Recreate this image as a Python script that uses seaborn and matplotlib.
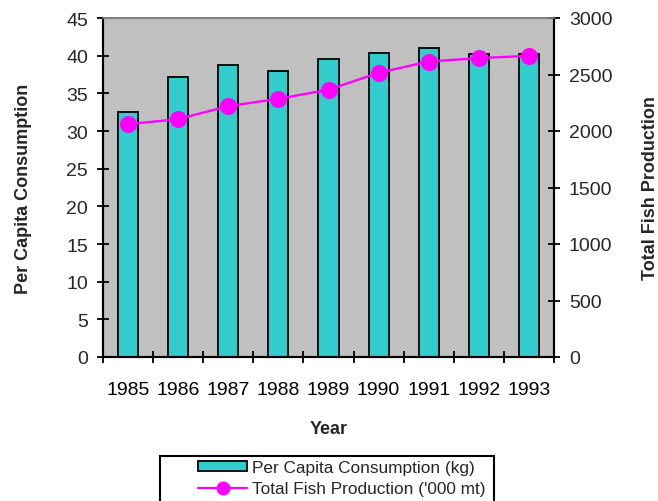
import matplotlib
matplotlib.use("Agg")
import matplotlib.pyplot as plt
import seaborn as sns
import pandas as pd
from matplotlib.patches import Patch, Rectangle
from matplotlib.lines import Line2D

years = ["1985", "1986", "1987", "1988", "1989", "1990", "1991", "1992", "1993"]
per_capita_kg = [32.5, 37.2, 38.8, 38.0, 39.6, 40.4, 41.0, 40.2, 40.2]
total_production_kt = [2060, 2105, 2220, 2285, 2365, 2515, 2615, 2645, 2665]

left_ticks = [0, 5, 10, 15, 20, 25, 30, 35, 40, 45]
right_ticks = [0, 500, 1000, 1500, 2000, 2500, 3000]

df = pd.DataFrame({"Year": years,
                   "Consumption": per_capita_kg,
                   "Production": total_production_kt})

sns.set_theme(style="white")
plt.rcParams["font.family"] = ["Liberation Sans", "DejaVu Sans"]

bar_color = "#33CCCC"
line_color = "#FF00FF"
W, H = 658, 502

fig = plt.figure(figsize=(W / 100, H / 100), dpi=100)
ax = fig.add_axes([103 / W, 1 - 358 / H, (554 - 103) / W, (358 - 19) / H])
ax.set_facecolor("#C0C0C0")

sns.barplot(data=df, x="Year", y="Consumption", ax=ax, color=bar_color,
            saturation=1, width=0.4, edgecolor="black", linewidth=1.3,
            zorder=2)

ax2 = ax.twinx()
sns.pointplot(data=df, x="Year", y="Production", ax=ax2, color=line_color,
              markers="o", markersize=11, linewidth=1.7, zorder=3)

n = len(years)
for a in (ax, ax2):
    a.set_xlim(-0.5, n - 0.5)

ax.set_ylim(0, 45)
ax.set_yticks(left_ticks)
ax2.set_ylim(0, 3000)
ax2.set_yticks(right_ticks)

# category labels centred, boundary ticks between categories
ax.set_xticks(range(n))
ax.set_xticklabels(years)
ax.set_xticks([i - 0.5 for i in range(n + 1)], minor=True)
ax.tick_params(axis="x", which="major", length=0, pad=17, labelsize=14,
               colors="#000000")
ax.tick_params(axis="x", which="minor", direction="inout", length=8.5,
               width=1.3, color="black", bottom=True)
ax.tick_params(axis="y", direction="inout", length=8.5, width=1.3,
               color="black", pad=6.5, labelsize=14, left=True)
ax2.tick_params(axis="y", direction="inout", length=8.5, width=1.3,
                color="black", pad=6.5, labelsize=14, right=True)
ax2.tick_params(axis="x", which="both", bottom=False, labelbottom=False)

for a in (ax, ax2):
    for side in ("left", "right", "bottom"):
        a.spines[side].set_color("black")
        a.spines[side].set_linewidth(1.5)
        a.spines[side].set_visible(True)
    a.spines["top"].set_color("#808080")
    a.spines["top"].set_linewidth(1.2)
    a.grid(False)

ax.set_xlabel("Year", fontsize=13, fontweight="bold")
ax.set_ylabel("Per Capita Consumption", fontsize=13, fontweight="bold")
ax2.set_ylabel("Total Fish Production", fontsize=13, fontweight="bold")
ax2.set_xlabel("")
ax.xaxis.set_label_coords(0.5, (358 - 421) / 339)
ax.yaxis.set_label_coords((32 - 103) / 451, 0.5)
ax2.yaxis.set_label_coords((642 - 103) / 451, 0.5)

# legend box in figure pixels
fig.patches.append(Rectangle((160 / W, 1 - 512 / H), (494 - 160) / W,
                             (512 - 457) / H, transform=fig.transFigure,
                             facecolor="white", edgecolor="black",
                             linewidth=1.5, zorder=1))

handles = [
    Patch(facecolor=bar_color, edgecolor="black", linewidth=1.3),
    Line2D([], [], color=line_color, marker="o", markersize=9, linewidth=1.6),
]
labels = ["Per Capita Consumption (kg)", "Total Fish Production ('000 mt)"]
leg = fig.legend(handles, labels, loc="upper left",
                 bbox_to_anchor=(198 / W, 1 - 461 / H),
                 bbox_transform=fig.transFigure, fontsize=12.4,
                 frameon=False, handlelength=2.85, handleheight=0.5,
                 borderpad=0, labelspacing=0.37, borderaxespad=0,
                 handletextpad=0.3)
leg.set_zorder(2)

fig.savefig("out.png", dpi=100)
